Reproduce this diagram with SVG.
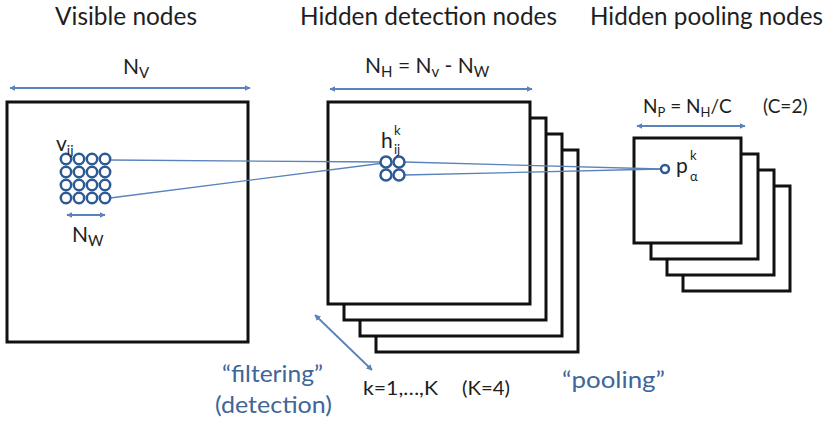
<svg xmlns="http://www.w3.org/2000/svg" width="830" height="424" viewBox="0 0 830 424">
<defs>
<style>
.t{font-family:Lato,"Open Sans","Liberation Sans",sans-serif;fill:#1e1e1e}
.b{font-family:Lato,"Open Sans","Liberation Sans",sans-serif;fill:#3f6699}
.box{fill:#fff;stroke:#111;stroke-width:3}
.node{fill:#fff;stroke:#2e5a94;stroke-width:2.5}
.dim{stroke:#5a82bb;stroke-width:1.8;fill:none;marker-start:url(#ah);marker-end:url(#ah)}
.con{stroke:#5a82bb;stroke-width:1.3;fill:none}
</style>
<marker id="ah" viewBox="0 0 10 10" refX="9" refY="5" markerWidth="6" markerHeight="6" markerUnits="userSpaceOnUse" orient="auto-start-reverse">
<path d="M0,0 L10,5 L0,10 z" fill="#5a82bb"/>
</marker>
</defs>
<rect width="830" height="424" fill="#fff"/>

<g id="titles">
<text class="t" x="55" y="25" font-size="25" textLength="142" lengthAdjust="spacingAndGlyphs">Visible nodes</text>
<text class="t" x="300" y="25" font-size="25" textLength="257" lengthAdjust="spacingAndGlyphs">Hidden detection nodes</text>
<text class="t" x="590" y="25" font-size="25" textLength="233" lengthAdjust="spacingAndGlyphs">Hidden pooling nodes</text>
</g>

<g id="visible-layer">
<rect class="box" x="7" y="102" width="241" height="240"/>
<line class="dim" x1="10" y1="88" x2="250" y2="88"/>
<text class="t" x="123" y="74" font-size="21">N<tspan font-size="15" dy="4">V</tspan></text>
<line class="dim" x1="67" y1="215" x2="105" y2="215"/>
<text class="t" x="72" y="242" font-size="21">N<tspan font-size="15" dy="4">W</tspan></text>
</g>

<g id="detection-layer">
<rect class="box" x="376" y="150" width="202" height="202"/>
<rect class="box" x="360" y="134" width="202" height="202"/>
<rect class="box" x="344" y="118" width="202" height="202"/>
<rect class="box" x="328" y="102" width="202" height="202"/>
<line class="dim" x1="330" y1="89" x2="532" y2="89"/>
<text class="t" x="365" y="73" font-size="21">N<tspan font-size="15" dy="4">H</tspan><tspan dy="-4"> = N</tspan><tspan font-size="15" dy="4">v</tspan><tspan dy="-4"> - N</tspan><tspan font-size="15" dy="4">W</tspan></text>
</g>

<g id="pooling-layer">
<rect class="box" x="683" y="186" width="107" height="105"/>
<rect class="box" x="667" y="170" width="107" height="105"/>
<rect class="box" x="651" y="154" width="107" height="105"/>
<rect class="box" x="634" y="138" width="107" height="105"/>
<line class="dim" x1="637" y1="126" x2="745" y2="126"/>
<text class="t" x="643" y="113" font-size="19">N<tspan font-size="13" dy="4">P</tspan><tspan dy="-4"> = N</tspan><tspan font-size="13" dy="4">H</tspan><tspan dy="-4">/C</tspan></text>
<text class="t" x="763" y="113" font-size="19">(C=2)</text>
</g>

<g id="connectors">
<line class="con" x1="110" y1="160" x2="384" y2="162"/>
<line class="con" x1="110" y1="198" x2="384" y2="163"/>
<line class="con" x1="404" y1="162" x2="661" y2="169"/>
<line class="con" x1="404" y1="175" x2="661" y2="169"/>
</g>

<g id="visible-nodes">
<g class="node">
<circle cx="66" cy="159" r="5.2"/><circle cx="79" cy="159" r="5.2"/><circle cx="92" cy="159" r="5.2"/><circle cx="105" cy="159" r="5.2"/>
<circle cx="66" cy="172" r="5.2"/><circle cx="79" cy="172" r="5.2"/><circle cx="92" cy="172" r="5.2"/><circle cx="105" cy="172" r="5.2"/>
<circle cx="66" cy="185" r="5.2"/><circle cx="79" cy="185" r="5.2"/><circle cx="92" cy="185" r="5.2"/><circle cx="105" cy="185" r="5.2"/>
<circle cx="66" cy="198" r="5.2"/><circle cx="79" cy="198" r="5.2"/><circle cx="92" cy="198" r="5.2"/><circle cx="105" cy="198" r="5.2"/>
</g>
<text class="t" x="56" y="151" font-size="21">v<tspan font-size="14" dy="4">ij</tspan></text>
</g>

<g id="detection-nodes">
<g class="node">
<circle cx="386" cy="162" r="5.5"/><circle cx="399" cy="162" r="5.5"/>
<circle cx="386" cy="175" r="5.5"/><circle cx="399" cy="175" r="5.5"/>
</g>
<text class="t" x="381" y="148" font-size="21">h</text>
<text class="t" x="394" y="135" font-size="13">k</text>
<text class="t" x="394" y="154" font-size="13">ij</text>
</g>

<g id="pooling-node">
<circle class="node" cx="665" cy="169" r="4" stroke-width="2"/>
<text class="t" x="676" y="173" font-size="21">p</text>
<text class="t" x="690" y="160" font-size="13">k</text>
<text class="t" x="690" y="181" font-size="13">α</text>
</g>

<g id="annotations">
<line class="dim" x1="315" y1="315" x2="372" y2="370" stroke-width="1.4"/>
<text class="b" x="222" y="382" font-size="23" textLength="101" lengthAdjust="spacingAndGlyphs">“filtering”</text>
<text class="b" x="215" y="413" font-size="23" textLength="117" lengthAdjust="spacingAndGlyphs">(detection)</text>
<text class="t" x="363" y="395" font-size="19" textLength="75" lengthAdjust="spacingAndGlyphs">k=1,…,K</text>
<text class="t" x="462" y="395" font-size="19" textLength="48" lengthAdjust="spacingAndGlyphs">(K=4)</text>
<text class="b" x="562" y="388" font-size="23" textLength="103" lengthAdjust="spacingAndGlyphs">“pooling”</text>
</g>
</svg>
